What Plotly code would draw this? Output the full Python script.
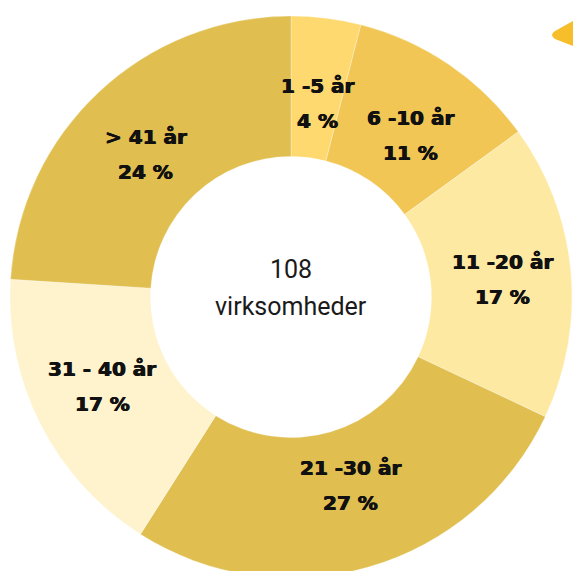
import math
import plotly.graph_objects as go

categories = ["1 -5 år", "6 -10 år", "11 -20 år", "21 -30 år", "31 - 40 år", "> 41 år"]
values = [4, 11, 17, 27, 17, 24]
colors = ["#FDD96F", "#F1C654", "#FEE9A3", "#E0BF50", "#FEF3CD", "#E0BF50"]
center_count = "108"
center_label = "virksomheder"

W, H = 573, 580
cx, cy, R = 291, 297, 281  # px, from top-left
label_rx, label_ry = 212, 196

fig = go.Figure(go.Pie(
    labels=categories,
    values=values,
    sort=False,
    direction="clockwise",
    rotation=0,
    hole=0.5,
    marker=dict(colors=colors, line=dict(color="rgba(255,255,255,0.6)", width=0.5)),
    textinfo="none",
    hoverinfo="label+value",
    showlegend=False,
    domain=dict(x=[(cx - R) / W, (cx + R) / W], y=[(H - (cy + R)) / H, (H - (cy - R)) / H]),
))

def px(x, y):
    return x / W, (H - y) / H

label_font = dict(family="DejaVu Sans, sans-serif", size=20, color="#111111", weight="bold",
                  shadow="0.5px 0 0 #111111, -0.5px 0 0 #111111")
total = sum(values)
cum = 0
for cat, v in zip(categories, values):
    mid = (cum + v / 2) / total * 2 * math.pi
    cum += v
    lx = cx + label_rx * math.sin(mid)
    ly = cy - label_ry * math.cos(mid)
    for text, dy in ((cat, -17), (f"{v} %", 18)):
        xp, yp = px(lx, ly + dy)
        fig.add_annotation(x=xp, y=yp, xref="paper", yref="paper", text=text,
                           showarrow=False, font=label_font, xanchor="center", yanchor="middle")

center_font = dict(family="Roboto, Open Sans, sans-serif", size=25, color="#1a1a1a")
for text, y in ((center_count, 269), (center_label, 306)):
    xp, yp = px(cx, y)
    fig.add_annotation(x=xp, y=yp, xref="paper", yref="paper", text=text, showarrow=False,
                       font=center_font, xanchor="center", yanchor="middle")

# decorative tag at top-right
fig.add_shape(
    type="path", xref="paper", yref="paper",
    path=f"M {573/W},{(H-21)/H} L {555/W},{(H-31)/H} Q {549/W},{(H-35)/H} {555/W},{(H-39)/H} L {573/W},{(H-46)/H} Z",
    fillcolor="#F7BE2B", line=dict(width=0),
)

fig.update_layout(
    width=W, height=H,
    margin=dict(l=0, r=0, t=0, b=0),
    paper_bgcolor="white", plot_bgcolor="white",
)

fig.write_html("out.html", config={"displayModeBar": False},
               post_script="document.body.style.margin='0';document.body.style.overflow='hidden';")
